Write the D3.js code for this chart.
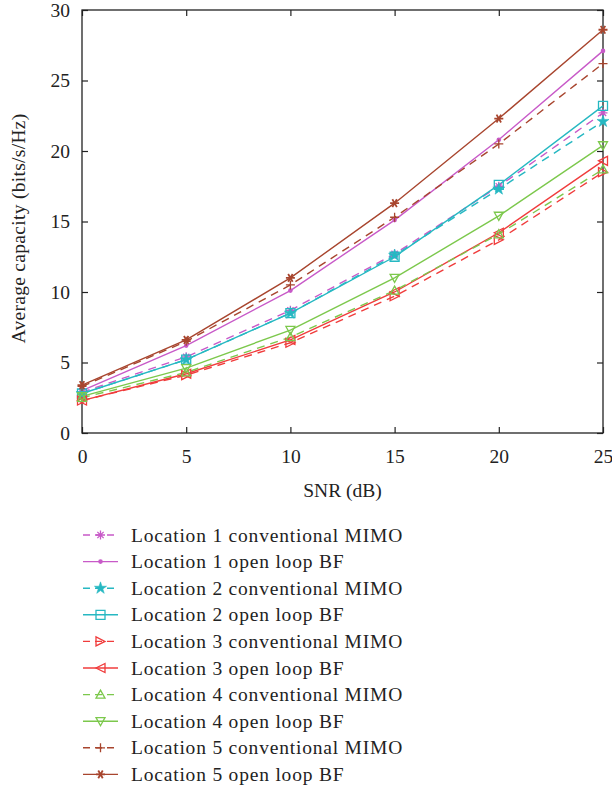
<!DOCTYPE html>
<html><head><meta charset="utf-8">
<script src="https://cdn.jsdelivr.net/npm/d3@7"></script>
<style>body{margin:0;background:#fff}svg{display:block}</style>
</head><body><svg id="c" width="612" height="790"></svg>
<script>
const snr = [0, 5, 10, 15, 20, 25];
const xTicks = [0, 5, 10, 15, 20, 25];
const yTicks = [0, 5, 10, 15, 20, 25, 30];
const seriesNames = [
  "Location 1 conventional MIMO","Location 1 open loop BF",
  "Location 2 conventional MIMO","Location 2 open loop BF",
  "Location 3 conventional MIMO","Location 3 open loop BF",
  "Location 4 conventional MIMO","Location 4 open loop BF",
  "Location 5 conventional MIMO","Location 5 open loop BF"];
const loc1Conv = [2.9, 5.4, 8.7, 12.7, 17.5, 22.7];
const loc1BF   = [3.0, 6.2, 10.1, 15.1, 20.8, 27.1];
const loc2Conv = [2.8, 5.2, 8.5, 12.6, 17.3, 22.1];
const loc2BF   = [2.8, 5.2, 8.5, 12.5, 17.6, 23.2];
const loc3Conv = [2.3, 4.1, 6.4, 9.7, 13.7, 18.5];
const loc3BF   = [2.3, 4.2, 6.6, 10.0, 14.2, 19.3];
const loc4Conv = [2.5, 4.3, 6.8, 10.1, 14.1, 18.7];
const loc4BF   = [2.6, 4.6, 7.3, 11.0, 15.4, 20.4];
const loc5Conv = [3.3, 6.5, 10.5, 15.3, 20.5, 26.2];
const loc5BF   = [3.4, 6.6, 11.0, 16.3, 22.3, 28.6];
const seriesValues = [loc1Conv, loc1BF, loc2Conv, loc2BF, loc3Conv, loc3BF, loc4Conv, loc4BF, loc5Conv, loc5BF];
const colors = ["#c85ac8","#c85ac8","#26b8c2","#26b8c2","#f03c3c","#f03c3c","#7cc84c","#7cc84c","#a8452e","#a8452e"];
const dashed = [true,false,true,false,true,false,true,false,true,false];
const markers = ["asterisk","dot","star","square","triR","triL","triU","triD","plus","star6"];

const FONT = '"Liberation Serif", serif';
const svg = d3.select("#c");
const L = 82, R = 603, T = 10, B = 433;
const x = d3.scaleLinear().domain([0,25]).range([L,R]);
const y = d3.scaleLinear().domain([0,30]).range([B,T]);

svg.append("rect").attr("x",L).attr("y",T).attr("width",R-L).attr("height",B-T)
  .attr("fill","none").attr("stroke","#222").attr("stroke-width",1.3);

const fs = 19.5;
const gx = svg.append("g").attr("transform",`translate(0,${B})`)
  .call(d3.axisBottom(x).tickValues(xTicks).tickSize(-6).tickPadding(16).tickFormat(d3.format("d")));
const gy = svg.append("g").attr("transform",`translate(${L},0)`)
  .call(d3.axisLeft(y).tickValues(yTicks).tickSize(-6).tickPadding(12).tickFormat(d3.format("d")));
const gy2 = svg.append("g").attr("transform",`translate(${R},0)`)
  .call(d3.axisRight(y).tickValues(yTicks).tickSize(-6).tickFormat(""));
const gx2 = svg.append("g").attr("transform",`translate(0,${T})`)
  .call(d3.axisTop(x).tickValues(xTicks).tickSize(-6).tickFormat(""));
[gx,gy,gy2,gx2].forEach(g=>{
  g.attr("font-family",FONT).attr("font-size",fs);
  g.select(".domain").remove();
  g.selectAll("line").attr("stroke","#222").attr("stroke-width",1.2);
  g.selectAll("text").attr("fill","#222");
});

svg.append("text").attr("x",(L+R)/2).attr("y",497).attr("text-anchor","middle")
  .attr("font-family",FONT).attr("font-size",fs).attr("fill","#222").text("SNR (dB)");
svg.append("text").attr("transform",`translate(25,${(T+B)/2+7}) rotate(-90)`).attr("text-anchor","middle")
  .attr("font-family",FONT).attr("font-size",fs).attr("letter-spacing",0.3).attr("fill","#222").text("Average capacity (bits/s/Hz)");

function drawMarker(g, type, cx, cy, color){
  const s = 4.5;
  const p = (d)=>g.append("path").attr("d",d).attr("stroke",color).attr("stroke-width",1.3).attr("fill","none");
  switch(type){
    case "asterisk": p(`M${cx-s},${cy}H${cx+s}M${cx},${cy-s}V${cy+s}M${cx-s*0.7},${cy-s*0.7}L${cx+s*0.7},${cy+s*0.7}M${cx-s*0.7},${cy+s*0.7}L${cx+s*0.7},${cy-s*0.7}`); break;
    case "dot": g.append("circle").attr("cx",cx).attr("cy",cy).attr("r",2.3).attr("fill",color); break;
    case "star": g.append("path").attr("d",d3.symbol(d3.symbolStar,45)()).attr("transform",`translate(${cx},${cy})`).attr("fill",color).attr("stroke",color).attr("stroke-width",0.6); break;
    case "square": p(`M${cx-s},${cy-s}h${2*s}v${2*s}h${-2*s}Z`); break;
    case "triR": p(`M${cx-s},${cy-s}L${cx+s},${cy}L${cx-s},${cy+s}Z`); break;
    case "triL": p(`M${cx+s},${cy-s}L${cx-s},${cy}L${cx+s},${cy+s}Z`); break;
    case "triU": p(`M${cx},${cy-s}L${cx+s},${cy+s*0.8}L${cx-s},${cy+s*0.8}Z`); break;
    case "triD": p(`M${cx},${cy+s}L${cx+s},${cy-s*0.8}L${cx-s},${cy-s*0.8}Z`); break;
    case "plus": p(`M${cx-s},${cy}H${cx+s}M${cx},${cy-s}V${cy+s}`); break;
    case "star6": p(`M${cx-s},${cy}H${cx+s}M${cx-s*0.5},${cy-s*0.87}L${cx+s*0.5},${cy+s*0.87}M${cx-s*0.5},${cy+s*0.87}L${cx+s*0.5},${cy-s*0.87}`).attr("stroke-width",1.8); break;
  }
}

const line = d3.line().x((d,i)=>x(snr[i])).y(d=>y(d));
const plot = svg.append("g");
seriesValues.forEach((vals,k)=>{
  plot.append("path").datum(vals).attr("d",line).attr("fill","none")
    .attr("stroke",colors[k]).attr("stroke-width",1.4)
    .attr("stroke-dasharray",dashed[k]?"8,6":null);
});
seriesValues.forEach((vals,k)=>{
  vals.forEach((v,i)=>drawMarker(plot, markers[k], x(snr[i]), y(v), colors[k]));
});

const leg = svg.append("g");
seriesNames.forEach((name,k)=>{
  const ly = 535 + k*26.6;
  leg.append("line").attr("x1",83).attr("x2",118).attr("y1",ly).attr("y2",ly)
    .attr("stroke",colors[k]).attr("stroke-width",1.4).attr("stroke-dasharray",dashed[k]?"7,5":null);
  drawMarker(leg, markers[k], 100.5, ly, colors[k]);
  leg.append("text").attr("x",131).attr("y",ly+6.5).attr("font-family",FONT).attr("font-size",fs)
    .attr("letter-spacing",0.8).attr("fill","#222").text(name);
});
</script></body></html>
